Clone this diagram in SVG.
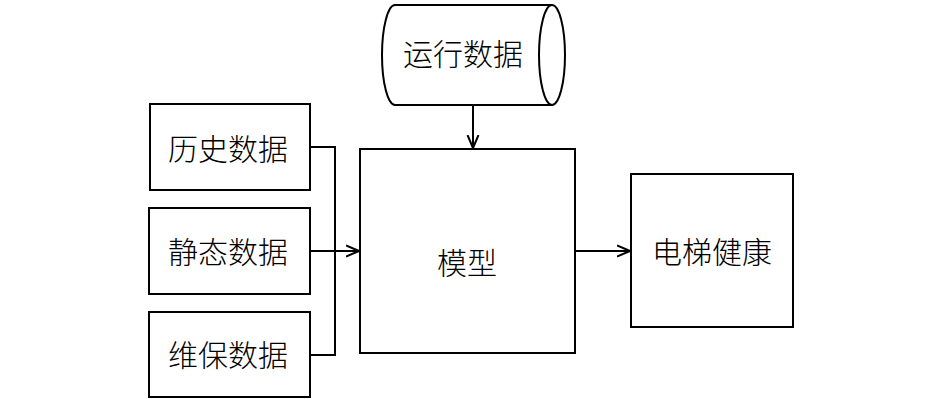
<svg xmlns="http://www.w3.org/2000/svg" width="945" height="399" viewBox="0 0 945 399">
<style>
.box{fill:#fff;stroke:#000;stroke-width:2}
.t{font-family:"Noto Sans CJK SC","Liberation Sans",sans-serif;font-size:30px;font-weight:300;fill:#000;text-anchor:middle;dominant-baseline:central}
.c{fill:none;stroke:#000;stroke-width:2}
</style>
<defs>
<marker id="a" viewBox="0 0 14 14" refX="13" refY="7" markerWidth="14" markerHeight="14" markerUnits="userSpaceOnUse" orient="auto">
<path d="M0,1.5 L13,7 L0,12.5" fill="none" stroke="#000" stroke-width="2"/>
</marker>
</defs>
<rect width="945" height="399" fill="#fff"/>
<g id="yunxing">
<path class="box" d="M395,5 L552,5 A13,50 0 0 1 552,105 L395,105 A13,50 0 0 1 395,5 Z"/>
<path class="c" d="M552,5 A13,50 0 0 0 552,105"/>
<text class="t" x="463" y="52">运行数据</text>
</g>
<g id="lishi">
<rect class="box" x="150" y="104" width="160" height="86"/>
<text class="t" x="228" y="147">历史数据</text>
</g>
<g id="jingtai">
<rect class="box" x="149" y="208" width="161" height="86"/>
<text class="t" x="228" y="250">静态数据</text>
</g>
<g id="weibao">
<rect class="box" x="149" y="312" width="161" height="85"/>
<text class="t" x="228" y="353">维保数据</text>
</g>
<g id="moxing">
<rect class="box" x="360" y="149" width="215" height="204"/>
<text class="t" x="467" y="261">模型</text>
</g>
<g id="dianti">
<rect class="box" x="631" y="174" width="162" height="153"/>
<text class="t" x="712" y="250">电梯健康</text>
</g>
<g id="connectors">
<path class="c" d="M310,147 L335,147 L335,355 L310,355"/>
<path class="c" d="M310,251 L359,251" marker-end="url(#a)"/>
<path class="c" d="M473,105 L473,148" marker-end="url(#a)"/>
<path class="c" d="M575,251 L630,251" marker-end="url(#a)"/>
</g>
</svg>
